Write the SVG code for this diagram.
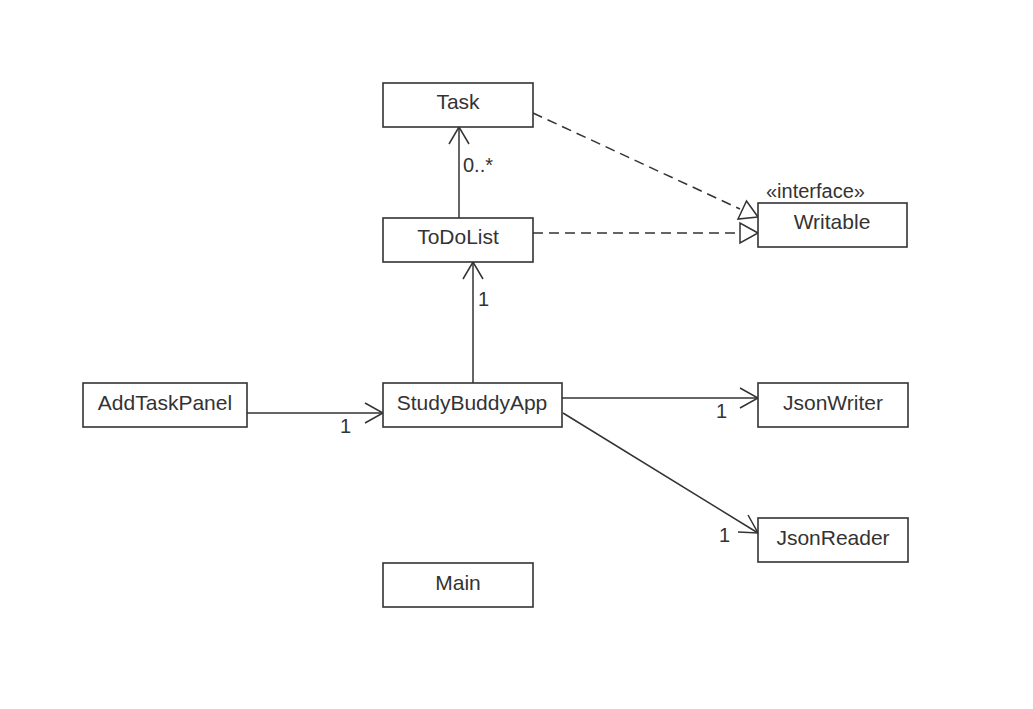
<svg xmlns="http://www.w3.org/2000/svg" width="1033" height="709" viewBox="0 0 1033 709">
<style>
.box{fill:#fff;stroke:#333;stroke-width:1.6}
.t{font-family:"Liberation Sans",Arial,sans-serif;font-size:21px;fill:#333;text-anchor:middle}
.l{font-family:"Liberation Sans",Arial,sans-serif;font-size:20px;fill:#333}
.ln{fill:none;stroke:#333;stroke-width:1.5}
.d{fill:none;stroke:#333;stroke-width:1.5;stroke-dasharray:10,6}
.tri{fill:#fff;stroke:#333;stroke-width:1.5}
</style>
<rect width="1033" height="709" fill="#fff"/>
<g id="connectors">
<line class="ln" x1="459" y1="218" x2="459" y2="127"/>
<polyline class="ln" points="449,144 459,127 469,144"/>
<text class="l" x="463" y="172">0..*</text>
<line class="ln" x1="473" y1="383" x2="473" y2="262"/>
<polyline class="ln" points="463,279 473,262 483,279"/>
<text class="l" x="478" y="306">1</text>
<line class="ln" x1="247" y1="413" x2="383" y2="413"/>
<polyline class="ln" points="365,403 383,413 365,423"/>
<text class="l" x="340" y="433">1</text>
<line class="ln" x1="562" y1="398" x2="758" y2="398"/>
<polyline class="ln" points="740,388 758,398 740,408"/>
<text class="l" x="716" y="418">1</text>
<line class="ln" x1="563" y1="413" x2="758" y2="533"/>
<polyline class="ln" points="738,532 758,533 748,515"/>
<text class="l" x="719" y="542">1</text>
<line class="d" x1="533" y1="113" x2="740" y2="209"/>
<polygon class="tri" points="758,217 738,219 746.5,201"/>
<line class="d" x1="533" y1="233" x2="740" y2="233"/>
<polygon class="tri" points="758,233 740,223 740,243"/>
</g>
<g id="Task"><rect class="box" x="383" y="83" width="150" height="44"/><text class="t" x="458" y="109">Task</text></g>
<g id="ToDoList"><rect class="box" x="383" y="218" width="150" height="44"/><text class="t" x="458" y="244">ToDoList</text></g>
<g id="Writable"><text class="l" x="766" y="198">«interface»</text><rect class="box" x="758" y="203" width="149" height="44"/><text class="t" x="832" y="229">Writable</text></g>
<g id="AddTaskPanel"><rect class="box" x="83" y="383" width="164" height="44"/><text class="t" x="165" y="410">AddTaskPanel</text></g>
<g id="StudyBuddyApp"><rect class="box" x="383" y="383" width="179" height="44"/><text class="t" x="472" y="410">StudyBuddyApp</text></g>
<g id="JsonWriter"><rect class="box" x="758" y="383" width="150" height="44"/><text class="t" x="833" y="410">JsonWriter</text></g>
<g id="JsonReader"><rect class="box" x="758" y="518" width="150" height="44"/><text class="t" x="833" y="545">JsonReader</text></g>
<g id="Main"><rect class="box" x="383" y="563" width="150" height="44"/><text class="t" x="458" y="590">Main</text></g>
</svg>
